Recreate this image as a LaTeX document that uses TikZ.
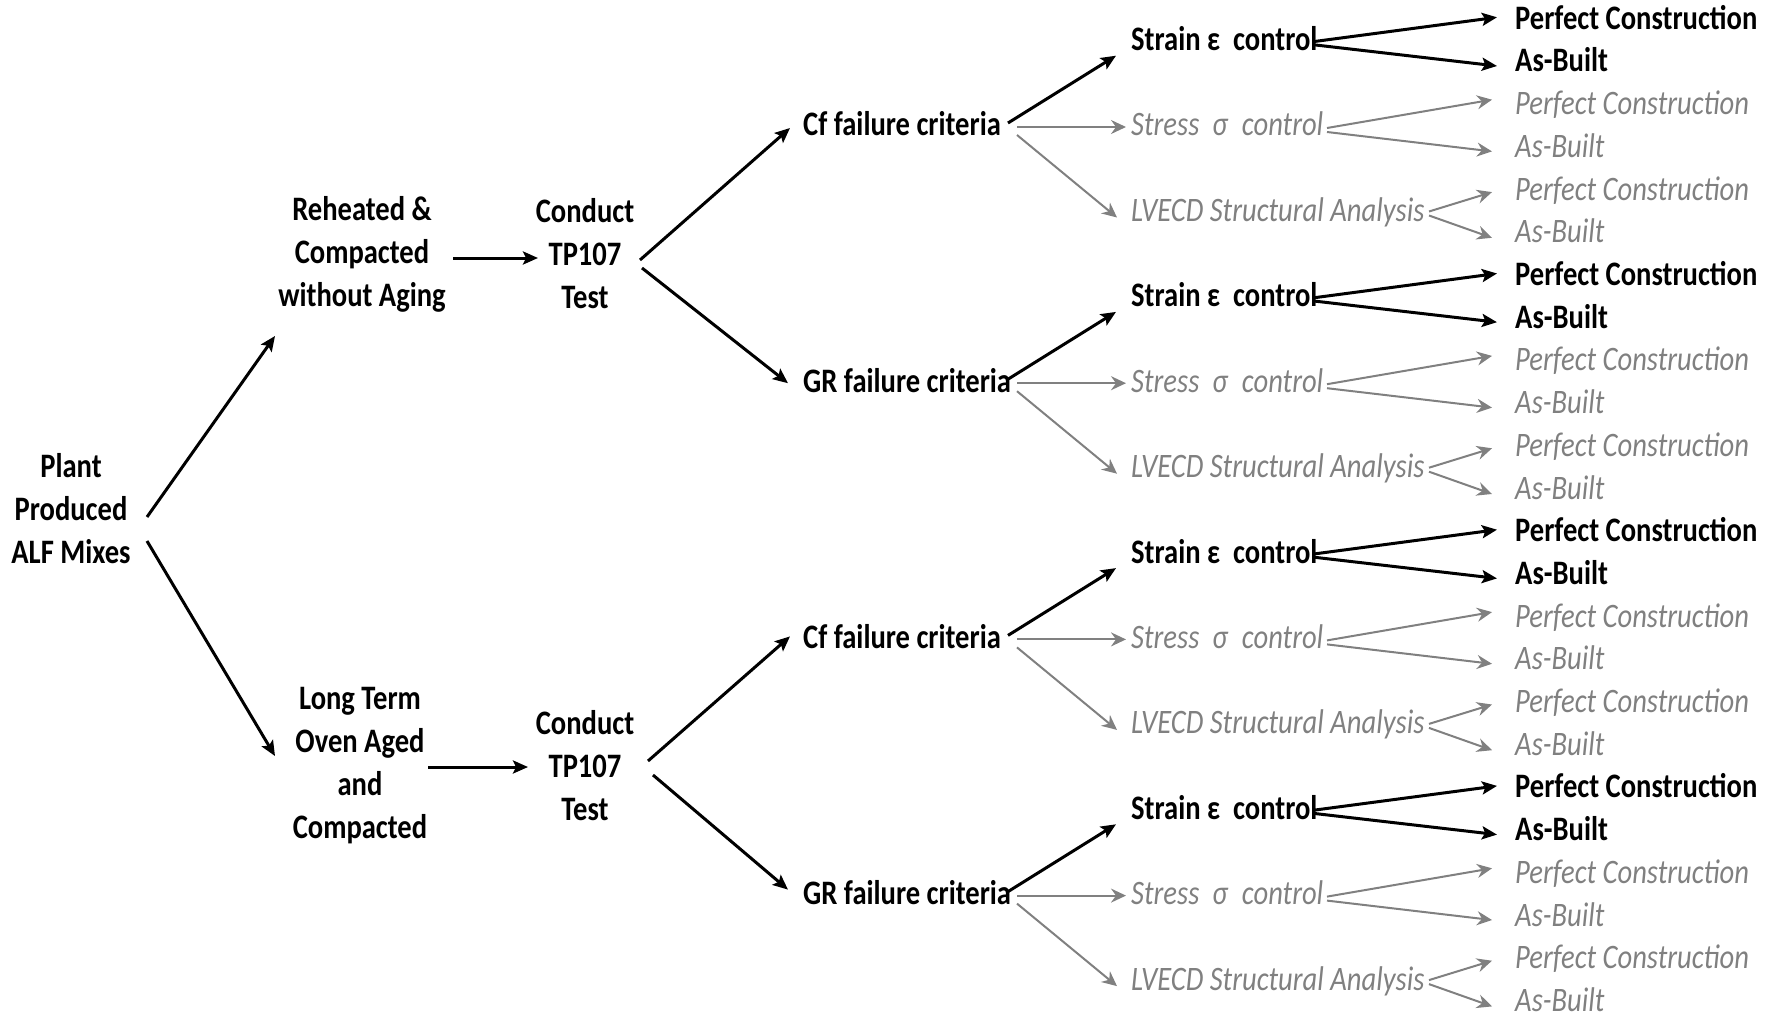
\documentclass[tikz,border=0pt]{standalone}
\usepackage{fontspec}
\setmainfont{Carlito}[FakeStretch=0.833]
\usetikzlibrary{arrows.meta}
\definecolor{gtext}{RGB}{128,128,128}
\begin{document}
\begin{tikzpicture}[x=1pt,y=-1pt,
  lbl/.style={inner sep=0pt, text height=22pt, text depth=2pt},
  blbl/.style={lbl, font=\fontsize{34.3}{43}\selectfont\bfseries},
  glbl/.style={lbl, font=\fontsize{34.3}{43}\selectfont\itshape, text=gtext},
  mlbl/.style={inner sep=0pt, align=center, font=\fontsize{34.3}{43}\selectfont\bfseries},
  blk/.style={line width=3pt, -{Stealth[length=15pt,width=13pt,inset=3pt]}},
  gry/.style={line width=2pt, draw=gtext, -{Stealth[length=15pt,width=14pt,inset=5pt]}},
]
\useasboundingbox (0,0) rectangle (1775,1014);

\node[mlbl] (plant) at (71,509) {Plant\\Produced\\ALF Mixes};
\node[mlbl] (reh) at (362,254) {Reheated \&\\Compacted\\without Aging};
\node[mlbl] (lto) at (360,766) {Long Term\\Oven Aged\\and\\Compacted};
\node[mlbl] (ct1) at (585,254) {Conduct\\TP107\\Test};
\node[mlbl] (ct2) at (585,766) {Conduct\\TP107\\Test};

\foreach \g/\c in {0/Cf,1/GR,2/Cf,3/GR}{
  \pgfmathsetmacro\o{256.2*\g}
  \node[blbl, anchor=west] (cr\g) at (803,{126+\o}) {\c\ failure criteria};
  \node[blbl, anchor=west] (st\g) at (1131,{40.7+\o}) {Strain ε\ \ control};
  \node[glbl, anchor=west] (ss\g) at (1131,{126+\o}) {Stress\ \ σ\hspace{8pt} control};
  \node[glbl, anchor=west] (lv\g) at (1131,{211.5+\o}) {LVECD Structural Analysis};
  \node[blbl, anchor=west] (pb\g) at (1515,{19.3+\o}) {Perfect Construction};
  \node[blbl, anchor=west] (ab\g) at (1515,{62+\o}) {As-Built};
  \node[glbl, anchor=west] (pg\g) at (1515,{104.7+\o}) {Perfect Construction};
  \node[glbl, anchor=west] (ag\g) at (1515,{147.4+\o}) {As-Built};
  \node[glbl, anchor=west] (pl\g) at (1515,{190.1+\o}) {Perfect Construction};
  \node[glbl, anchor=west] (al\g) at (1515,{232.8+\o}) {As-Built};

  \draw[blk] ([shift={(205,-3)}]cr\g.west) -- ([shift={(-15,15)}]st\g.west);
  \draw[gry] ([shift={(214,1)}]cr\g.west) -- ([shift={(-5,1)}]ss\g.west);
  \draw[gry] ([shift={(214,9)}]cr\g.west) -- ([shift={(-14,6)}]lv\g.west);
  \draw[blk] ([shift={(182,1)}]st\g.west) -- ([shift={(-18,-2)}]pb\g.west);
  \draw[blk] ([shift={(182,4)}]st\g.west) -- ([shift={(-18,4)}]ab\g.west);
  \draw[gry] ([shift={(196,2)}]ss\g.west) -- ([shift={(-23,-5)}]pg\g.west);
  \draw[gry] ([shift={(196,6)}]ss\g.west) -- ([shift={(-23,4)}]ag\g.west);
  \draw[gry] ([shift={(298,0)}]lv\g.west) -- ([shift={(-23,2)}]pl\g.west);
  \draw[gry] ([shift={(298,4)}]lv\g.west) -- ([shift={(-23,5)}]al\g.west);
}

\draw[blk] ([shift={(76,8)}]plant.center) -- ([shift={(-87,82)}]reh.center);
\draw[blk] ([shift={(76,32)}]plant.center) -- ([shift={(-85,-10)}]lto.center);
\draw[blk] ([shift={(91,4)}]reh.center) -- ([shift={(-47,4)}]ct1.center);
\draw[blk] ([shift={(68,1)}]lto.center) -- ([shift={(-57,1)}]ct2.center);
\draw[blk] ([shift={(55,6)}]ct1.center) -- ([shift={(-13,2)}]cr0.west);
\draw[blk] ([shift={(57,14)}]ct1.center) -- ([shift={(-15,1)}]cr1.west);
\draw[blk] ([shift={(63,-5)}]ct2.center) -- ([shift={(-13,-2)}]cr2.west);
\draw[blk] ([shift={(68,9)}]ct2.center) -- ([shift={(-15,-5)}]cr3.west);
\end{tikzpicture}
\end{document}
